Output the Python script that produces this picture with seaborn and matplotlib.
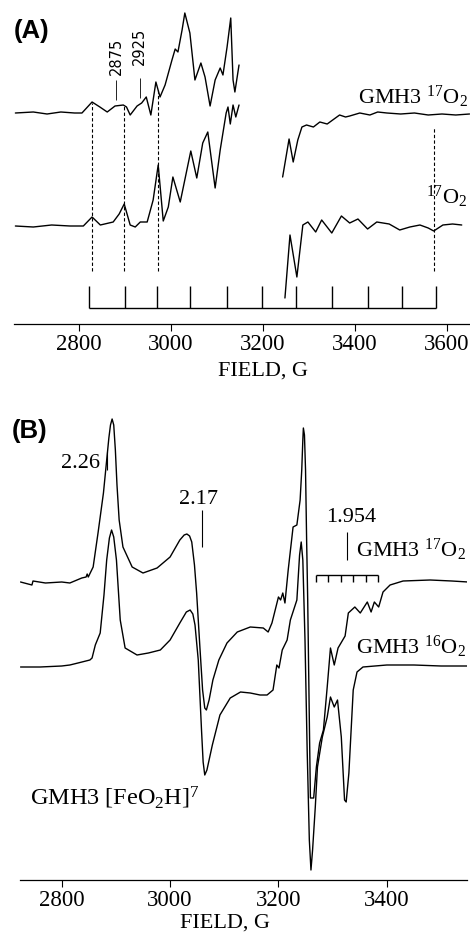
import numpy as np
import matplotlib
matplotlib.use("Agg")
import matplotlib.pyplot as plt
import seaborn as sns

# EPR spectra, field in gauss, signal in arbitrary units

# panel A, upper trace (GMH3 17O2), low-field window
a_top_field_1 = [2661, 2700, 2730, 2760, 2790, 2806, 2828, 2845, 2861, 2878, 2896, 2903, 2911,
                 2926, 2936, 2946, 2956, 2967, 2976, 2987, 3002, 3009, 3015, 3024, 3030, 3041,
                 3052, 3065, 3074, 3085, 3096, 3107, 3113, 3122, 3130, 3135, 3139, 3148]
a_top_signal_1 = [211, 212, 210, 212, 211, 211, 222, 217, 212, 218, 219, 217, 209,
                  218, 221, 227, 209, 242, 227, 239, 264, 275, 272, 294, 311, 291,
                  244, 261, 247, 218, 244, 256, 249, 277, 306, 244, 232, 259]
# panel A, upper trace, high-field window
a_top_field_2 = [3243, 3257, 3266, 3276, 3285, 3295, 3310, 3324, 3340, 3352, 3367, 3380, 3389,
                 3411, 3433, 3450, 3470, 3500, 3530, 3560, 3590, 3620, 3650]
a_top_signal_2 = [147, 185, 162, 184, 197, 199, 197, 202, 200, 204, 209, 207, 208,
                  211, 209, 212, 211, 210, 211, 209, 210, 209, 210]

# panel A, lower trace (17O2)
a_bot_field_1 = [2661, 2700, 2740, 2780, 2809, 2828, 2846, 2874, 2887, 2898, 2911, 2922, 2933,
                 2948, 2961, 2972, 2983, 2994, 3004, 3020, 3043, 3056, 3069, 3080, 3096, 3107,
                 3120, 3124, 3129, 3135, 3141, 3148]
a_bot_signal_1 = [98, 97, 99, 98, 98, 107, 99, 102, 110, 120, 99, 97, 102,
                  102, 124, 159, 103, 117, 147, 122, 173, 146, 181, 192, 136, 174,
                  211, 217, 200, 219, 207, 219]
a_bot_field_2 = [3248, 3259, 3274, 3287, 3298, 3315, 3328, 3350, 3371, 3389, 3407, 3428, 3448,
                 3475, 3498, 3520, 3542, 3560, 3572, 3592, 3613, 3633]
a_bot_signal_2 = [26, 89, 47, 99, 102, 92, 104, 91, 108, 101, 105, 95, 102,
                  100, 94, 97, 99, 96, 93, 99, 100, 99]

# 17O hyperfine stick pattern and guide lines
a_stick_fields = [2822, 2899, 2970, 3041, 3121, 3199, 3272, 3350, 3428, 3502, 3576]
a_guide_fields = [2827, 2898, 2972, 3572]
a_marks = ["2875", "2925"]
a_mark_fields = [2880, 2932]

# panel B, GMH3 17O2
b_top_field = [2724, 2745, 2747, 2770, 2800, 2815, 2837, 2845, 2847, 2849, 2858, 2867, 2877,
               2883, 2887, 2890, 2893, 2896, 2899, 2902, 2906, 2913, 2930, 2950, 2976, 3000,
               3018, 3026, 3031, 3036, 3040, 3045, 3049, 3055, 3060, 3064, 3067, 3072, 3079,
               3090, 3105, 3124, 3148, 3172, 3181, 3188, 3200, 3204, 3208, 3212, 3218, 3227,
               3234, 3240, 3243, 3245, 3246, 3248, 3250, 3252, 3254, 3257, 3259, 3265, 3270,
               3276, 3283, 3290, 3296, 3303, 3310, 3323, 3329, 3341, 3351, 3364, 3371, 3377,
               3385, 3393, 3406, 3430, 3480, 3520, 3550]
b_top_signal = [298, 295, 299, 297, 298, 297, 302, 303, 306, 303, 313, 347, 387,
                420, 442, 455, 461, 455, 430, 395, 360, 333, 313, 307, 312, 323,
                340, 345, 346, 344, 338, 315, 287, 233, 190, 172, 170, 180, 200,
                220, 237, 248, 253, 252, 248, 257, 283, 280, 287, 277, 310, 353,
                355, 380, 410, 440, 452, 445, 410, 340, 280, 160, 82, 82, 113,
                137, 150, 193, 232, 215, 232, 244, 267, 273, 267, 278, 268, 278,
                273, 288, 295, 299, 300, 299, 298]

# panel B, GMH3 16O2
b_bot_field = [2724, 2760, 2800, 2815, 2830, 2852, 2856, 2862, 2871, 2878, 2883, 2888, 2892,
               2896, 2901, 2908, 2917, 2939, 2960, 2982, 3000, 3018, 3030, 3037, 3042, 3046,
               3052, 3058, 3061, 3064, 3068, 3078, 3092, 3111, 3130, 3148, 3166, 3179, 3190,
               3197, 3201, 3207, 3216, 3222, 3234, 3239, 3242, 3245, 3249, 3253, 3257, 3260,
               3263, 3268, 3272, 3281, 3290, 3296, 3303, 3309, 3316, 3322, 3325, 3330, 3338,
               3345, 3356, 3400, 3450, 3500, 3550]
b_bot_signal = [213, 213, 214, 215, 217, 220, 222, 235, 247, 285, 320, 342, 350,
                343, 320, 260, 232, 225, 227, 230, 240, 257, 268, 270, 266, 255,
                220, 150, 118, 105, 110, 135, 165, 182, 188, 187, 185, 185, 190,
                215, 212, 230, 240, 260, 280, 325, 338, 320, 240, 130, 40, 10,
                30, 73, 113, 143, 163, 183, 173, 180, 143, 80, 78, 107, 190,
                208, 213, 215, 215, 214, 214]

b_comb_fields = [3270, 3292, 3315, 3338, 3362, 3384]

sns.set_style("white")
plt.rcParams['font.family'] = ['Liberation Serif', 'DejaVu Serif']
plt.rcParams['mathtext.fontset'] = 'custom'
plt.rcParams['mathtext.rm'] = 'Liberation Serif'
plt.rcParams['mathtext.it'] = 'Liberation Serif:italic'
plt.rcParams['text.color'] = 'black'
plt.rcParams['axes.labelcolor'] = 'black'
plt.rcParams['xtick.color'] = 'black'
plt.rcParams['axes.edgecolor'] = 'black'

fig = plt.figure(figsize=(4.7, 9.36), dpi=100)
ax_a = fig.add_axes([14 / 470, 1 - 324 / 936, 456 / 470, 324 / 936])
ax_b = fig.add_axes([20 / 470, 1 - 880 / 936, 447 / 470, 480 / 936])

for ax in (ax_a, ax_b):
    ax.set_facecolor('none')
    for s in ('left', 'right', 'top'):
        ax.spines[s].set_visible(False)
    ax.spines['bottom'].set_linewidth(0.9)
    ax.set_yticks([])
    ax.tick_params(axis='x', direction='out', length=5, width=0.8,
                   labelsize=16.5, pad=2, bottom=True)

line_kw = dict(color='black', lw=1.0, sort=False, estimator=None)

# ---- panel A ----
for f, s in [(a_top_field_1, a_top_signal_1), (a_top_field_2, a_top_signal_2),
             (a_bot_field_1, a_bot_signal_1), (a_bot_field_2, a_bot_signal_2)]:
    sns.lineplot(x=f, y=s, ax=ax_a, **line_kw)

top_all_f = a_top_field_1 + a_top_field_2
top_all_s = a_top_signal_1 + a_top_signal_2
gaps = [0, 0, 0, 12]
for g, gap in zip(a_guide_fields, gaps):
    ytop = np.interp(g, top_all_f, top_all_s) - gap
    ax_a.vlines(g, 53, ytop, colors='black', lw=0.8, linestyles=(0, (3, 2)))

ax_a.hlines(16, a_stick_fields[0], a_stick_fields[-1], colors='black', lw=1.0)
ax_a.vlines(a_stick_fields, 16, 38, colors='black', lw=1.0)

for i, (g, txt) in enumerate(zip(a_mark_fields, a_marks)):
    ax_a.vlines(g, 224 + 2 * i, 244 + 2 * i, colors='black', lw=0.6)
    ax_a.text(g, 249 + 10 * i, txt, rotation=90, ha='center', va='bottom',
              fontsize=10.5, family=['Liberation Sans Narrow', 'DejaVu Sans'])

ax_a.text(3646, 227, r'GMH3 $\mathregular{^{17}O_{2}}$', ha='right', va='center', fontsize=16)
ax_a.text(3646, 127, r'$\mathregular{^{17}O_{2}}$', ha='right', va='center', fontsize=16)

ax_a.set_xlim(2658, 3651)
ax_a.set_ylim(0, 324)
ax_a.set_xticks([2800, 3000, 3200, 3400, 3600])
ax_a.set_xlabel('FIELD, G', fontsize=16)
ax_a.xaxis.set_label_coords(0.546, -38 / 324)
ax_a.set_ylabel('')

# ---- panel B ----
for f, s in [(b_top_field, b_top_signal), (b_bot_field, b_bot_signal)]:
    sns.lineplot(x=f, y=s, ax=ax_b, **line_kw)

ax_b.text(2871, 417, '2.26', ha='right', va='center', fontsize=16)
ax_b.vlines(2884, 410, 428, colors='black', lw=0.8)
ax_b.text(3052, 380, '2.17', ha='center', va='center', fontsize=16)
ax_b.vlines(3058, 333, 370, colors='black', lw=0.8)
ax_b.text(3335, 363, '1.954', ha='center', va='center', fontsize=16)
ax_b.vlines(3327, 320, 348, colors='black', lw=0.8)
ax_b.hlines(305, b_comb_fields[0], b_comb_fields[-1], colors='black', lw=1.0)
ax_b.vlines(b_comb_fields, 298, 305, colors='black', lw=1.0)

ax_b.text(3546, 330, r'GMH3 $\mathregular{^{17}O_{2}}$', ha='right', va='center', fontsize=16)
ax_b.text(3546, 233, r'GMH3 $\mathregular{^{16}O_{2}}$', ha='right', va='center', fontsize=16)
ax_b.text(2741, 82, r'GMH3 [FeO$\mathregular{_{2}}$H]$\mathregular{^{7}}$', ha='left',
          va='center', fontsize=17.5)

ax_b.set_xlim(2723, 3548)
ax_b.set_ylim(0, 480)
ax_b.set_xticks([2800, 3000, 3200, 3400])
ax_b.set_xlabel('FIELD, G', fontsize=16)
ax_b.xaxis.set_label_coords(0.459, -34 / 480)
ax_b.set_ylabel('')

fig.text(14 / 470, 1 - 31 / 936, '(A)', fontsize=18.5, fontweight='bold',
         family=['Liberation Sans', 'DejaVu Sans'], ha='left', va='center')
fig.text(12 / 470, 1 - 431 / 936, '(B)', fontsize=18.5, fontweight='bold',
         family=['Liberation Sans', 'DejaVu Sans'], ha='left', va='center')

fig.savefig('out.png', dpi=100)
